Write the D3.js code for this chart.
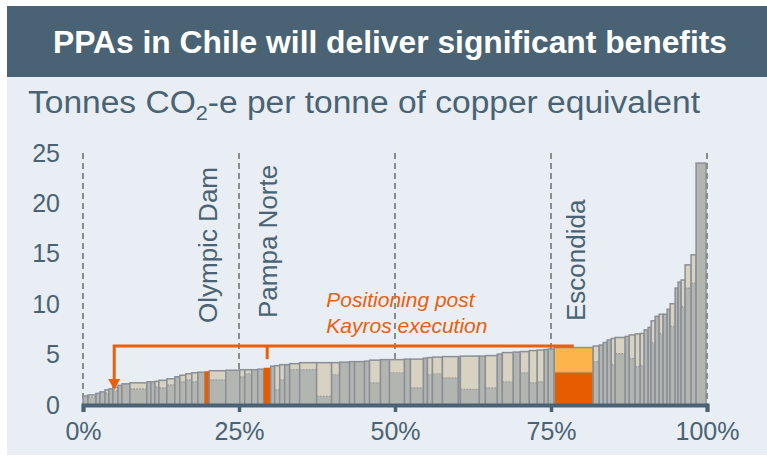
<!DOCTYPE html>
<html>
<head>
<meta charset="utf-8">
<script src="https://cdn.jsdelivr.net/npm/d3@7/dist/d3.min.js"></script>
<style>
  html, body { margin: 0; padding: 0; background: #ffffff; }
  svg { display: block; font-family: "Liberation Sans", Arial, sans-serif; }
</style>
</head>
<body>
<svg id="chart" width="767" height="459"></svg>
<script>
// Emissions-intensity curve of copper operations (variable-width bars).
// Share of production (%), in ascending order of intensity
const shares = [
  0.80,1.28,0.64,0.80,0.64,0.64,0.80,0.64,1.28,2.72,
  0.64,0.64,0.64,1.28,1.28,0.80,0.96,0.96,0.96,1.12,
  0.72,2.64,2.24,0.80,1.12,0.96,0.96,1.12,0.64,0.80,
  0.80,0.80,1.60,2.72,2.40,1.28,1.60,0.80,1.60,0.80,
  1.76,1.44,2.40,0.96,2.08,0.64,0.80,1.60,2.56,0.32,
  3.04,0.96,1.92,0.80,1.76,1.12,1.44,1.28,1.12,0.64,
  0.96,6.25,0.96,0.64,0.64,0.64,0.64,1.60,0.64,0.96,
  0.80,0.64,0.64,0.48,0.64,0.64,0.64,0.64,0.48,0.80,
  0.48,0.48,0.64,0.96,0.80,1.60
];
// Total intensity, t CO2-e per t Cu-eq
const totalIntensity = [
  0.9,1.0,1.15,1.3,1.5,1.6,1.75,1.95,2.1,2.2,
  2.3,2.3,2.35,2.45,2.6,2.8,2.95,3.1,3.2,3.25,
  3.35,3.4,3.45,3.5,3.5,3.5,3.55,3.7,3.85,3.9,
  4.0,4.0,4.1,4.2,4.2,4.2,4.25,4.3,4.3,4.35,
  4.45,4.5,4.5,4.55,4.55,4.65,4.7,4.75,4.8,4.8,
  4.85,4.85,4.9,5.05,5.2,5.25,5.3,5.4,5.45,5.5,
  5.55,5.7,5.85,5.95,6.2,6.45,6.6,6.7,6.8,6.95,
  7.05,7.1,7.45,7.7,8.35,8.8,9.0,9.0,9.5,10.05,
  11.6,12.2,12.4,13.9,14.9,24.0
];
// Lower component of each bar (null where the bar is a single block)
const lowerIntensity = [
  null,0.8,null,null,1.2,null,1.4,null,null,1.6,
  null,null,1.8,1.7,2.0,null,2.3,2.5,2.3,null,
  null,2.5,null,2.8,3.1,null,null,null,null,1.5,
  2.5,null,3.5,3.5,0.85,3.0,null,null,null,null,
  2.2,null,3.2,null,1.7,null,3.0,3.1,2.7,null,
  1.55,null,1.7,null,2.3,null,3.2,2.2,2.3,null,
  null,3.25,4.3,null,null,null,4.0,5.1,null,4.6,
  3.8,3.9,null,null,6.2,null,7.1,null,null,7.8,
  null,null,9.75,11.6,12.1,null
];
// Highlighted operations and their position in the curve
const mineNames = ["Olympic Dam", "Pampa Norte", "Escondida"];
const mineIndex = [20, 27, 61];

const xTicks = [0, 25, 50, 75, 100];
const yTicks = [0, 5, 10, 15, 20, 25];

// Kayros repositioning: target level and bracket
const targetShare = 5;        // % of production where Escondida lands
const bracketLevel = 5.85;
const arrowTipLevel = 1.5;
const pnTickLevel = 4.55;
const noteLines = ["Positioning post", "Kayros execution"];
const noteAnchor = { share: 39.0, level: 9.7 };

const SLATE = "#4a6374";
const ORANGE = "#e65c00";
const ORANGE_LIGHT = "#fdb44b";
const GREY = "#b3b5b1";
const BEIGE = "#d8d2c2";
const EDGE = "#8b9097";

const svg = d3.select("#chart");

// panel and banner
svg.append("rect").attr("x", 7).attr("y", 6).attr("width", 760).attr("height", 449).attr("fill", "#e8eef3");
svg.append("rect").attr("x", 7).attr("y", 6).attr("width", 760).attr("height", 71).attr("fill", SLATE);
svg.append("text")
  .attr("x", 390).attr("y", 53)
  .attr("text-anchor", "middle")
  .attr("fill", "#ffffff")
  .attr("font-weight", "bold")
  .attr("font-size", 32)
  .attr("textLength", 674)
  .attr("lengthAdjust", "spacingAndGlyphs")
  .text("PPAs in Chile will deliver significant benefits");

const sub = svg.append("text")
  .attr("x", 28).attr("y", 113)
  .attr("fill", SLATE)
  .attr("font-size", 31)
  .attr("textLength", 672)
  .attr("lengthAdjust", "spacingAndGlyphs");
sub.append("tspan").text("Tonnes CO");
sub.append("tspan").attr("font-size", 20).attr("dy", 7).text("2");
sub.append("tspan").attr("dy", -7).text("-e per tonne of copper equivalent");

const x = d3.scaleLinear().domain([0, 100]).range([83, 707]);
const y = d3.scaleLinear().domain([0, 25]).range([405, 153]);

// dashed quartile guides
svg.append("g").selectAll("line").data(xTicks).join("line")
  .attr("x1", d => x(d)).attr("x2", d => x(d))
  .attr("y1", y(25)).attr("y2", y(0))
  .attr("stroke", "#8c8c8c").attr("stroke-width", 2)
  .attr("stroke-dasharray", "6,4");

// bars
let cum = 0;
const bars = shares.map((w, i) => {
  const b = { x0: cum, x1: cum + w, total: totalIntensity[i], lower: lowerIntensity[i], i };
  cum += w;
  return b;
});

const gBars = svg.append("g");
bars.forEach(b => {
  const mine = mineIndex.indexOf(b.i);
  const bx = x(b.x0), bw = x(b.x1) - x(b.x0);
  if (mine === 0 || mine === 1) {
    gBars.append("rect").attr("x", bx).attr("y", y(b.total))
      .attr("width", bw).attr("height", y(0) - y(b.total)).attr("fill", ORANGE);
    return;
  }
  const isEsc = mine === 2;
  const lo = b.lower == null ? b.total : b.lower;
  gBars.append("rect").attr("x", bx).attr("y", y(lo))
    .attr("width", bw).attr("height", y(0) - y(lo))
    .attr("fill", isEsc ? ORANGE : GREY);
  if (b.lower != null) {
    gBars.append("rect").attr("x", bx).attr("y", y(b.total))
      .attr("width", bw).attr("height", y(b.lower) - y(b.total))
      .attr("fill", isEsc ? ORANGE_LIGHT : BEIGE);
    gBars.append("line").attr("x1", bx).attr("x2", bx + bw)
      .attr("y1", y(b.lower)).attr("y2", y(b.lower))
      .attr("stroke", isEsc ? "#c98a45" : "#9a9c98").attr("stroke-width", 1.2)
      .attr("stroke-dasharray", isEsc ? null : "2,1");
  }
  gBars.append("rect").attr("x", bx).attr("y", y(b.total))
    .attr("width", bw).attr("height", y(0) - y(b.total))
    .attr("fill", "none").attr("stroke", EDGE).attr("stroke-width", 1.5);
});

// x axis
const xAxis = svg.append("g").attr("transform", `translate(0,${y(0)})`)
  .call(d3.axisBottom(x).tickValues(xTicks).tickFormat(d => d + "%").tickSize(7).tickPadding(10));
xAxis.select(".domain").attr("stroke", SLATE).attr("stroke-width", 4);
xAxis.selectAll(".tick line").attr("stroke", SLATE).attr("stroke-width", 3.5);
xAxis.selectAll(".tick text").attr("fill", SLATE).attr("font-size", 25)
  .attr("font-family", "Liberation Sans, Arial, sans-serif");

// y axis
const yAxis = svg.append("g").attr("transform", `translate(${x(0)},0)`)
  .call(d3.axisLeft(y).tickValues(yTicks).tickSize(0).tickPadding(23));
yAxis.select(".domain").remove();
yAxis.selectAll(".tick text").attr("fill", SLATE).attr("font-size", 25)
  .attr("font-family", "Liberation Sans, Arial, sans-serif");

// vertical mine labels
const labelPos = [
  { baseX: 217, startY: 323 },
  { baseX: 277, startY: 318 },
  { baseX: 585, startY: 321 }
];
mineNames.forEach((name, k) => {
  svg.append("text")
    .attr("transform", `translate(${labelPos[k].baseX},${labelPos[k].startY}) rotate(-90)`)
    .attr("fill", SLATE).attr("font-size", 26)
    .text(name);
});

// repositioning bracket
const esc = bars[mineIndex[2]];
const pn = bars[mineIndex[1]];
const escMid = (esc.x0 + esc.x1) / 2;
const pnMid = (pn.x0 + pn.x1) / 2;
const g = svg.append("g").attr("stroke", "#e8600f").attr("stroke-width", 3).attr("fill", "none");
g.append("path")
  .attr("d", `M${x(escMid)},${y(bracketLevel)} H${x(targetShare)} V${y(arrowTipLevel) - 9}`);
g.append("line")
  .attr("x1", x(pnMid)).attr("x2", x(pnMid))
  .attr("y1", y(bracketLevel)).attr("y2", y(pnTickLevel));
svg.append("path")
  .attr("d", `M${x(targetShare) - 6},${y(arrowTipLevel) - 11} L${x(targetShare) + 6},${y(arrowTipLevel) - 11} L${x(targetShare)},${y(arrowTipLevel)} Z`)
  .attr("fill", "#e8600f");

const note = svg.append("text")
  .attr("x", x(noteAnchor.share)).attr("y", y(noteAnchor.level))
  .attr("fill", "#e8600f").attr("font-size", 21).attr("font-style", "italic");
noteLines.forEach((t, k) => {
  note.append("tspan").attr("x", x(noteAnchor.share)).attr("dy", k === 0 ? 0 : 26).text(t);
});
</script>
</body>
</html>
